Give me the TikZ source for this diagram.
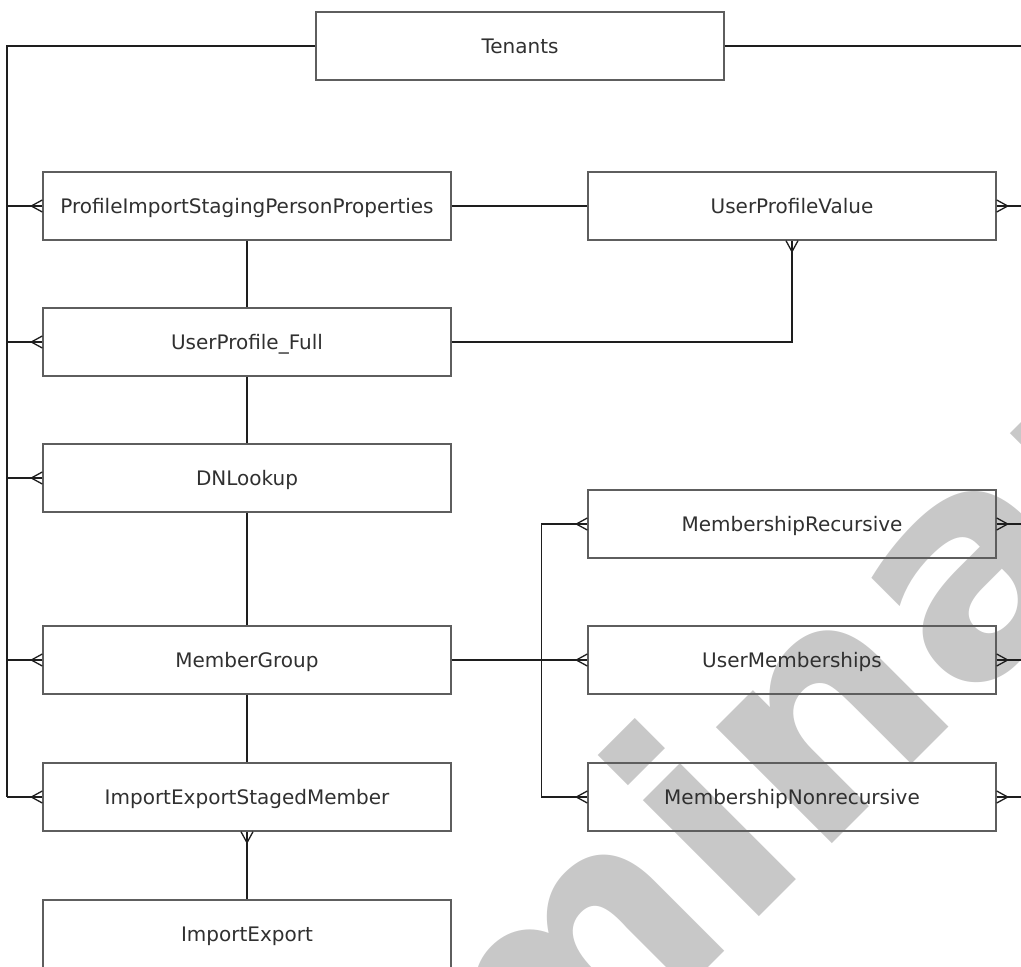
\documentclass[tikz,border=0pt]{standalone}
\usepackage{fontspec}
\setmainfont{DejaVu Sans}
\newfontfamily\wmfont{DejaVu Sans Bold}
\usetikzlibrary{calc}
\definecolor{boxgray}{HTML}{5E5E5E}
\definecolor{txtgray}{HTML}{303030}
\definecolor{wmgray}{HTML}{C8C8C8}
\definecolor{linegray}{HTML}{1E1E1E}
\newcommand{\crowft}[2]{\draw[link] ([shift={(#2:11)}]#1) -- ([shift={(#2+90:6)}]#1) ([shift={(#2:11)}]#1) -- ([shift={(#2-90:6)}]#1);}
\begin{document}
\begin{tikzpicture}[x=1pt,y=-1pt,
  box/.style={draw=boxgray, line width=1.4pt, minimum width=408pt, minimum height=68pt, inner sep=0pt, text height=14.6pt, text depth=0pt, font=\fontsize{20}{24}\selectfont, text=txtgray},
  link/.style={draw=linegray, line width=1.3pt},
  toplink/.style={draw=linegray, line width=1.9pt}]
\useasboundingbox (0,0) rectangle (1021,967);
\node[rotate=45, anchor=base west, text=wmgray, font=\fontsize{300}{300}\wmfont, inner sep=0pt] (wm) at (-29,1705) {Preliminary};
% boxes
\node[box] (ten)  at (520,46)  {Tenants};
\node[box] (pisp) at (247,206) {ProfileImportStagingPersonProperties};
\node[box] (upv)  at (792,206) {UserProfileValue};
\node[box] (upf)  at (247,342) {UserProfile\_Full};
\node[box] (dnl)  at (247,478) {DNLookup};
\node[box] (mr)   at (792,524) {MembershipRecursive};
\node[box] (mg)   at (247,660) {MemberGroup};
\node[box] (um)   at (792,660) {UserMemberships};
\node[box] (iesm) at (247,797) {ImportExportStagedMember};
\node[box] (mn)   at (792,797) {MembershipNonrecursive};
\node[box] (ie)   at (247,934) {ImportExport};
\coordinate (edgeR) at (1021,46);
% Tenants bus left
\draw[toplink] (ten.west) -| ($(iesm.west)+(-35,0)$);
\draw[link] ($(iesm.west)+(-35,0)$) -- (iesm.west);
\draw[link] (pisp.west) -- ++(-35,0);
\draw[link] (upf.west) -- ++(-35,0);
\draw[link] (dnl.west) -- ++(-35,0);
\draw[link] (mg.west) -- ++(-35,0);
\crowft{pisp.west}{180}
\crowft{upf.west}{180}
\crowft{dnl.west}{180}
\crowft{mg.west}{180}
\crowft{iesm.west}{180}
% Tenants bus right
\draw[toplink] (ten.east) -- (edgeR);
\draw[link] (upv.east) -- ++(26,0);
\draw[link] (mr.east) -- ++(26,0);
\draw[link] (um.east) -- ++(26,0);
\draw[link] (mn.east) -- ++(26,0);
\crowft{upv.east}{0}
\crowft{mr.east}{0}
\crowft{um.east}{0}
\crowft{mn.east}{0}
% other relations
\draw[link] (pisp.east) -- (upv.west);
\draw[link] (pisp.south) -- (upf.north);
\draw[link] (upf.east) -| (upv.south);
\crowft{upv.south}{90}
\draw[link] (upf.south) -- (dnl.north);
\draw[link] (dnl.south) -- (mg.north);
\draw[link] (mg.south) -- (iesm.north);
\draw[link] (iesm.south) -- (ie.north);
\crowft{iesm.south}{90}
\draw[link] (mg.east) -- (um.west);
\crowft{um.west}{180}
\draw[link] (mr.west) -- ++(-46,0) |- (mn.west);
\crowft{mr.west}{180}
\crowft{mn.west}{180}
\end{tikzpicture}
\end{document}
